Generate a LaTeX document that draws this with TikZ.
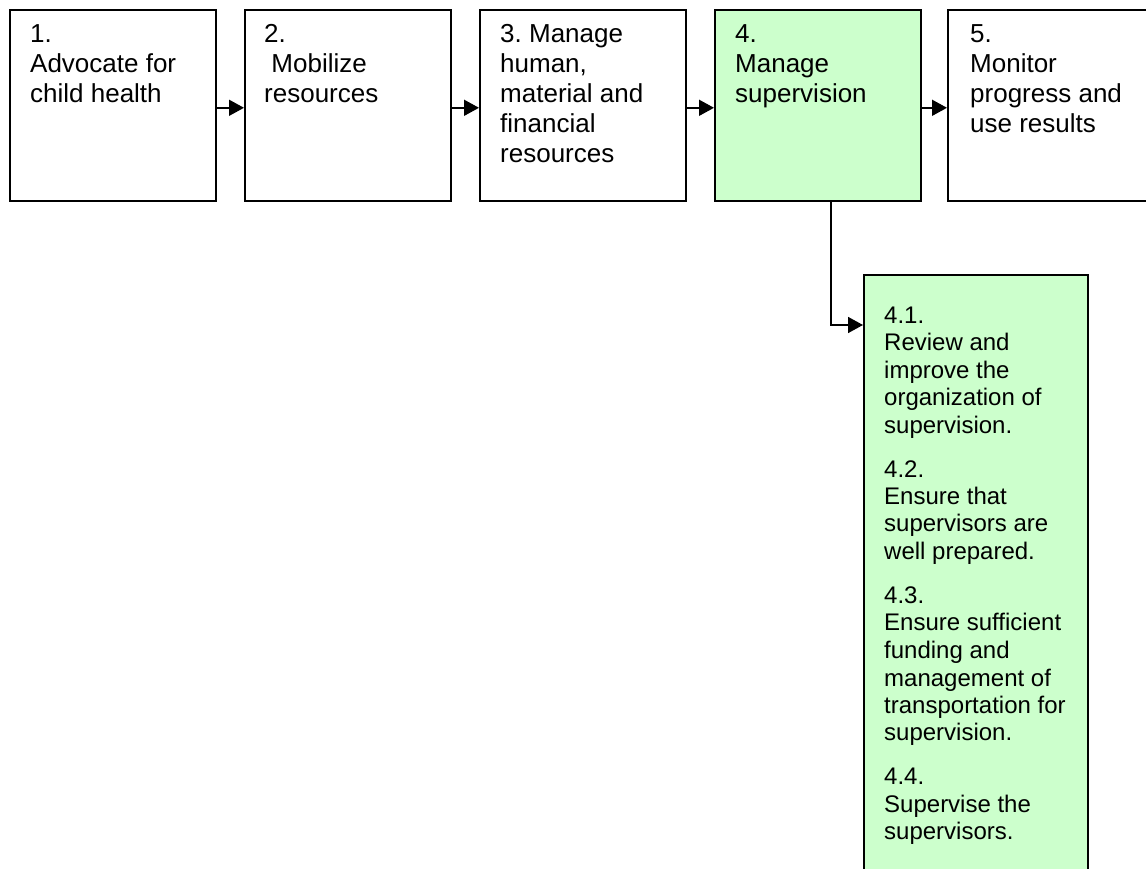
\documentclass[tikz,border=0pt]{standalone}
\usepackage{fontspec}
\setmainfont{Liberation Sans}
\usetikzlibrary{arrows.meta}
\frenchspacing
\definecolor{stepgreen}{RGB}{204,255,204}
% a block of lines whose reference point is the first baseline
\newcommand{\toplines}[1]{\parbox[t]{215pt}{\raggedright #1}}
\tikzset{
  stagebox/.style={draw=black, line width=1.6pt, rectangle, anchor=north west,
    inner sep=0pt, minimum width=206pt, minimum height=191pt},
  activebox/.style={stagebox, fill=stepgreen},
  detailbox/.style={draw=black, line width=1.6pt, rectangle, anchor=north west,
    inner sep=0pt, fill=stepgreen, minimum width=224pt, minimum height=640pt},
  stagetext/.style={anchor=base west, inner sep=0pt,
    font=\fontsize{26}{30}\selectfont},
  detailtext/.style={anchor=base west, inner sep=0pt,
    font=\fontsize{24}{27.5}\selectfont},
  flow/.style={draw=black, line width=1.6pt, -{Triangle[length=15pt,width=16pt]}}
}
\begin{document}
\begin{tikzpicture}[x=1pt,y=-1pt]
  \useasboundingbox (0,0) rectangle (1146,869);
  \fill[white] (0,0) rectangle (1146,869);
  \clip (0,0) rectangle (1146,869);

  % main process steps
  \node[stagebox]  (b1) at (9,9)   {};
  \node[stagebox]  (b2) at (244,9) {};
  \node[stagebox]  (b3) at (479,9) {};
  \node[activebox] (b4) at (714,9) {};
  \node[stagebox]  (b5) at (947,9) {};

  \node[stagetext] (t1) at (30,43)  {\toplines{1.\\Advocate for\\child health}};
  \node[stagetext] (t2) at (264,43) {\toplines{2.\\\hspace*{0.278em}Mobilize\\resources}};
  \node[stagetext] (t3) at (500,43) {\toplines{3. Manage\\human,\\material and\\financial\\resources}};
  \node[stagetext] (t4) at (735,43) {\toplines{4.\\Manage\\supervision}};
  \node[stagetext] (t5) at (970,43) {\toplines{5.\\Monitor\\progress and\\use results}};

  % detail of step 4
  \node[detailbox] (sub) at (863,274) {};
  \node[detailtext] (d1) at (884,323) {\toplines{4.1.\\Review and\\improve the\\organization of\\supervision.\\[16.5pt]
    4.2.\\Ensure that\\supervisors are\\well prepared.\\[16.5pt]
    4.3.\\Ensure sufficient\\funding and\\management of\\transportation for\\supervision.\\[16.5pt]
    4.4.\\Supervise the\\supervisors.}};

  % connectors
  \draw[flow] ([yshift=-2.5pt]b1.east) -- ([yshift=-2.5pt]b2.west);
  \draw[flow] ([yshift=-2.5pt]b2.east) -- ([yshift=-2.5pt]b3.west);
  \draw[flow] ([yshift=-2.5pt]b3.east) -- ([yshift=-2.5pt]b4.west);
  \draw[flow] ([yshift=-2.5pt]b4.east) -- ([yshift=-2.5pt]b5.west);
  \draw[flow] ([xshift=13pt]b4.south) |- ([yshift=-51pt]sub.north west);
\end{tikzpicture}
\end{document}
